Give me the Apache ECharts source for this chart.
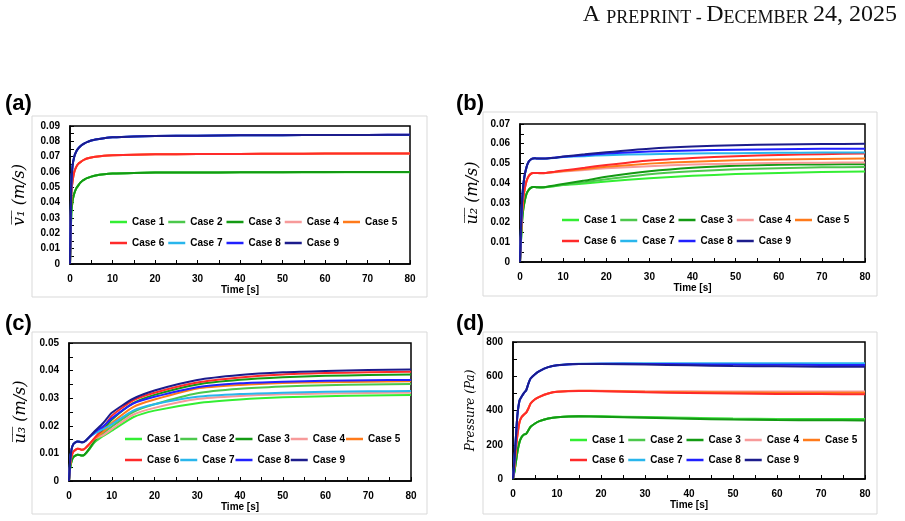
<!DOCTYPE html>
<html lang="en">
<head>
<meta charset="UTF-8">
<title>Mean velocity and pressure histories</title>
<script src="https://cdn.jsdelivr.net/npm/echarts/dist/echarts.min.js"></script>
<style>
  html, body { margin: 0; padding: 0; background: #fff; }
  #chart { width: 905px; height: 521px; }
</style>
</head>
<body>
<div id="chart"></div>
<script>
// time samples [s], shared by the four panels
const time = [0, 0.3, 0.6, 1, 1.5, 2, 2.5, 3, 3.5, 4, 5, 6, 8, 10, 15, 20, 30, 40, 50, 60, 70, 80];

const caseNames = ['Case 1', 'Case 2', 'Case 3', 'Case 4', 'Case 5', 'Case 6', 'Case 7', 'Case 8', 'Case 9'];
const caseColors = ['#33ee33', '#4cc84c', '#139a13', '#f79a9a', '#ff7a1a', '#ff2a2a', '#29b6ec', '#2020ff', '#1c1c8c'];

const xTicks = [0, 10, 20, 30, 40, 50, 60, 70, 80];

// (a) mean v1 [m/s]
const v1Data = [
  [0, 0.033, 0.041, 0.046, 0.0495, 0.0515, 0.0532, 0.0545, 0.0553, 0.056, 0.057, 0.0577, 0.0585, 0.059, 0.0594, 0.0596, 0.0597, 0.0598, 0.0599, 0.0599, 0.0599, 0.0599],
  [0, 0.033, 0.041, 0.046, 0.0495, 0.0515, 0.0532, 0.0545, 0.0553, 0.056, 0.057, 0.0577, 0.0585, 0.059, 0.0594, 0.0596, 0.0597, 0.0598, 0.0599, 0.0599, 0.06, 0.06],
  [0, 0.033, 0.041, 0.046, 0.0495, 0.0515, 0.0532, 0.0545, 0.0553, 0.056, 0.057, 0.0577, 0.0585, 0.059, 0.0594, 0.0596, 0.0597, 0.0598, 0.0599, 0.06, 0.06, 0.06],
  [0, 0.045, 0.054, 0.06, 0.0635, 0.0655, 0.0665, 0.0675, 0.0682, 0.0688, 0.0695, 0.07, 0.0706, 0.0709, 0.0713, 0.0715, 0.0717, 0.0718, 0.0719, 0.0719, 0.072, 0.072],
  [0, 0.045, 0.054, 0.06, 0.0635, 0.0655, 0.0665, 0.0675, 0.0682, 0.0688, 0.0695, 0.07, 0.0706, 0.0709, 0.0713, 0.0715, 0.0717, 0.0718, 0.0719, 0.072, 0.072, 0.072],
  [0, 0.045, 0.054, 0.06, 0.0635, 0.0655, 0.0665, 0.0675, 0.0682, 0.0688, 0.0695, 0.07, 0.0706, 0.0709, 0.0713, 0.0715, 0.0717, 0.0718, 0.0719, 0.072, 0.072, 0.0721],
  [0, 0.052, 0.064, 0.07, 0.0735, 0.0755, 0.077, 0.078, 0.0788, 0.0795, 0.0805, 0.0812, 0.082, 0.0826, 0.0832, 0.0835, 0.0837, 0.0839, 0.084, 0.0841, 0.0842, 0.0842],
  [0, 0.052, 0.064, 0.07, 0.0735, 0.0755, 0.077, 0.078, 0.0788, 0.0795, 0.0805, 0.0812, 0.082, 0.0826, 0.0832, 0.0835, 0.0837, 0.0839, 0.084, 0.0841, 0.0842, 0.0843],
  [0, 0.052, 0.064, 0.07, 0.0735, 0.0755, 0.077, 0.078, 0.0788, 0.0795, 0.0805, 0.0812, 0.082, 0.0826, 0.0832, 0.0835, 0.0837, 0.0839, 0.084, 0.0841, 0.0842, 0.0843]
];

// (b) mean u2 [m/s]
const u2Data = [
  [0, 0.014, 0.024, 0.03, 0.0345, 0.0365, 0.0376, 0.038, 0.038, 0.0379, 0.0378, 0.0379, 0.0384, 0.039, 0.0398, 0.0408, 0.0425, 0.0437, 0.0446, 0.0452, 0.0456, 0.0459],
  [0, 0.014, 0.024, 0.03, 0.0345, 0.0365, 0.0376, 0.038, 0.038, 0.0379, 0.0378, 0.038, 0.0386, 0.0392, 0.0405, 0.042, 0.0445, 0.046, 0.047, 0.0476, 0.048, 0.0482],
  [0, 0.014, 0.024, 0.03, 0.0345, 0.0365, 0.0376, 0.038, 0.038, 0.0379, 0.0379, 0.0381, 0.0388, 0.0396, 0.0413, 0.0432, 0.046, 0.0478, 0.0488, 0.0493, 0.0495, 0.0496],
  [0, 0.018, 0.029, 0.036, 0.041, 0.0435, 0.0447, 0.0452, 0.0452, 0.0451, 0.045, 0.0451, 0.0455, 0.0459, 0.0467, 0.0475, 0.0486, 0.0494, 0.0499, 0.0502, 0.0504, 0.0505],
  [0, 0.018, 0.029, 0.036, 0.041, 0.0435, 0.0447, 0.0452, 0.0452, 0.0451, 0.045, 0.0451, 0.0456, 0.0461, 0.0472, 0.0483, 0.0499, 0.0509, 0.0516, 0.052, 0.0523, 0.0525],
  [0, 0.018, 0.029, 0.036, 0.041, 0.0435, 0.0447, 0.0452, 0.0452, 0.0451, 0.0451, 0.0452, 0.0458, 0.0464, 0.0478, 0.0492, 0.0515, 0.0528, 0.0537, 0.0543, 0.0547, 0.055],
  [0, 0.022, 0.035, 0.043, 0.048, 0.0508, 0.052, 0.0525, 0.0526, 0.0525, 0.0524, 0.0525, 0.0528, 0.0532, 0.0537, 0.0542, 0.0547, 0.055, 0.0552, 0.0554, 0.0555, 0.0556],
  [0, 0.022, 0.035, 0.043, 0.048, 0.0508, 0.052, 0.0525, 0.0526, 0.0525, 0.0525, 0.0525, 0.0529, 0.0534, 0.0542, 0.055, 0.056, 0.0566, 0.057, 0.0572, 0.0574, 0.0575],
  [0, 0.022, 0.035, 0.043, 0.048, 0.0508, 0.052, 0.0525, 0.0526, 0.0525, 0.0525, 0.0525, 0.0529, 0.0535, 0.0546, 0.0557, 0.0575, 0.0586, 0.0592, 0.0596, 0.0598, 0.06]
];

// (c) mean u3 [m/s]
const u3Data = [
  [0, 0.005, 0.0072, 0.0086, 0.0092, 0.0095, 0.0094, 0.0092, 0.0094, 0.0101, 0.012, 0.014, 0.0163, 0.0182, 0.0231, 0.0255, 0.0282, 0.0295, 0.0303, 0.0307, 0.031, 0.0312],
  [0, 0.005, 0.0072, 0.0086, 0.0092, 0.0095, 0.0094, 0.0092, 0.0094, 0.0101, 0.0121, 0.0142, 0.0172, 0.0197, 0.025, 0.0278, 0.0318, 0.0334, 0.0342, 0.0347, 0.035, 0.0351],
  [0, 0.005, 0.0072, 0.0086, 0.0092, 0.0095, 0.0094, 0.0092, 0.0094, 0.0102, 0.0123, 0.0146, 0.0185, 0.0222, 0.0282, 0.0312, 0.035, 0.0367, 0.0376, 0.0381, 0.0384, 0.0386],
  [0, 0.0065, 0.009, 0.0106, 0.0113, 0.0117, 0.0116, 0.0113, 0.0115, 0.0121, 0.0137, 0.0153, 0.0166, 0.0188, 0.024, 0.0265, 0.0297, 0.0308, 0.0314, 0.0317, 0.0319, 0.032],
  [0, 0.0065, 0.009, 0.0106, 0.0113, 0.0117, 0.0116, 0.0113, 0.0115, 0.0121, 0.0137, 0.0154, 0.0178, 0.021, 0.0268, 0.0295, 0.0335, 0.0348, 0.0355, 0.0358, 0.036, 0.0361],
  [0, 0.0065, 0.009, 0.0106, 0.0113, 0.0117, 0.0116, 0.0113, 0.0115, 0.0122, 0.0138, 0.0156, 0.0192, 0.0236, 0.0292, 0.032, 0.0357, 0.0375, 0.0386, 0.0391, 0.0394, 0.0396],
  [0, 0.008, 0.0115, 0.0133, 0.014, 0.0143, 0.0142, 0.014, 0.0142, 0.0147, 0.0162, 0.0172, 0.0188, 0.0205, 0.0255, 0.0278, 0.0305, 0.0315, 0.032, 0.0323, 0.0325, 0.0326],
  [0, 0.008, 0.0115, 0.0133, 0.014, 0.0143, 0.0142, 0.014, 0.0142, 0.0147, 0.0162, 0.0177, 0.0198, 0.0227, 0.028, 0.0305, 0.034, 0.0354, 0.036, 0.0363, 0.0365, 0.0366],
  [0, 0.008, 0.0115, 0.0133, 0.014, 0.0143, 0.0142, 0.014, 0.0142, 0.0148, 0.0164, 0.018, 0.021, 0.0247, 0.0298, 0.0328, 0.0366, 0.0384, 0.0394, 0.0399, 0.0402, 0.0404]
];

// (d) pressure [Pa]
const pData = [
  [0, 40, 90, 159, 217, 247, 260, 264, 285, 305, 324, 338, 353, 361, 367, 366, 362, 357, 353, 351, 350, 350],
  [0, 40, 90, 159, 217, 247, 260, 264, 285, 305, 324, 338, 353, 361, 367, 365, 360, 355, 350, 348, 347, 346],
  [0, 40, 90, 159, 217, 247, 260, 264, 285, 305, 324, 338, 353, 361, 366, 364, 358, 352, 347, 344, 343, 342],
  [0, 70, 160, 256, 334, 363, 377, 388, 412, 441, 466, 480, 499, 509, 515, 515, 513, 512, 511, 511, 511, 511],
  [0, 70, 160, 256, 334, 363, 377, 388, 412, 441, 466, 480, 499, 509, 515, 514, 510, 507, 505, 504, 504, 504],
  [0, 70, 160, 256, 334, 363, 377, 388, 412, 441, 466, 480, 499, 509, 514, 512, 506, 502, 499, 497, 496, 495],
  [0, 100, 220, 373, 460, 483, 503, 518, 557, 587, 612, 630, 653, 664, 673, 675, 676, 676, 676, 676, 676, 676],
  [0, 100, 220, 373, 460, 483, 503, 518, 557, 587, 612, 630, 653, 664, 672, 673, 672, 670, 668, 667, 666, 665],
  [0, 100, 220, 373, 460, 483, 503, 518, 557, 587, 612, 630, 653, 664, 671, 671, 668, 664, 660, 658, 656, 655]
];

const sans = "'Liberation Sans', Arial, sans-serif";
const serif = "'DejaVu Serif', serif";

// layout of each panel
const panels = [
  { tag: '(a)', data: v1Data, yName: 'v\u0305\u2081\u0305 (m/s)', nameSize: 16, yMax: 0.09, yStep: 0.01, digits: 2,
    grid: { left: 70, top: 126, width: 340, height: 138 }, nameGap: 42,
    frame: [32, 116, 395, 181], tagPos: [5, 93], legend: [110, 220, 241, 4] },
  { tag: '(b)', data: u2Data, yName: 'u\u0305\u2082\u0305 (m/s)', nameSize: 16, yMax: 0.07, yStep: 0.01, digits: 2,
    grid: { left: 520, top: 124, width: 345, height: 138 }, nameGap: 39,
    frame: [483, 112, 394, 184], tagPos: [456, 93], legend: [562, 218, 239, 4] },
  { tag: '(c)', data: u3Data, yName: 'u\u0305\u2083\u0305 (m/s)', nameSize: 16, yMax: 0.05, yStep: 0.01, digits: 2,
    grid: { left: 69, top: 343, width: 342, height: 138 }, nameGap: 40,
    frame: [32, 332, 395, 182], tagPos: [5, 313], legend: [125, 437, 458, 1] },
  { tag: '(d)', data: pData, yName: 'Pressure (Pa)', nameSize: 12, yMax: 800, yStep: 200, digits: 0,
    grid: { left: 513, top: 342, width: 352, height: 137 }, nameGap: 36,
    frame: [483, 332, 394, 182], tagPos: [456, 313], legend: [570, 438, 458, 4] }
];

const tickLabel = { color: '#000', fontFamily: sans, fontWeight: 'bold', fontSize: 10 };

const option = {
  animation: false,
  backgroundColor: '#fff',
  grid: [], xAxis: [], yAxis: [], series: [], legend: [],
  graphic: [
    {
      type: 'text', right: 8, top: 3,
      style: {
        text: '{b|A }{s|PREPRINT - }{b|D}{s|ECEMBER }{b|24, 2025}',
        fill: '#111',
        rich: {
          b: { fontFamily: "'Liberation Serif', serif", fontSize: 24, verticalAlign: 'bottom', lineHeight: 26 },
          s: { fontFamily: "'Liberation Serif', serif", fontSize: 18, verticalAlign: 'bottom', lineHeight: 26 }
        }
      }
    }
  ]
};

panels.forEach((p, gi) => {
  option.grid.push(Object.assign({ show: true, borderColor: '#000', borderWidth: 1.5, backgroundColor: '#fff' }, p.grid));
  option.xAxis.push({
    type: 'value', gridIndex: gi, min: 0, max: 80, interval: 10,
    name: 'Time [s]', nameLocation: 'middle', nameGap: 18,
    nameTextStyle: { color: '#000', fontFamily: sans, fontWeight: 'bold', fontSize: 10 },
    axisLine: { lineStyle: { color: '#000', width: 1.5 } },
    axisTick: { inside: true, length: 4, lineStyle: { color: '#000' } },
    minorTick: { show: true, splitNumber: 2, length: 4, lineStyle: { color: '#000' } },
    axisLabel: Object.assign({ margin: 10, formatter: v => xTicks.includes(v) ? String(v) : '' }, tickLabel),
    splitLine: { show: false }
  });
  option.yAxis.push({
    type: 'value', gridIndex: gi, min: 0, max: p.yMax, interval: p.yStep,
    name: p.yName, nameLocation: 'middle', nameRotate: 90, nameGap: p.nameGap,
    nameTextStyle: { color: '#000', fontFamily: serif, fontStyle: 'italic', fontSize: p.nameSize },
    axisLine: { lineStyle: { color: '#000', width: 1.5 } },
    axisTick: { inside: true, length: 4, lineStyle: { color: '#000' } },
    minorTick: { show: true, splitNumber: 2, length: 4, lineStyle: { color: '#000' } },
    axisLabel: Object.assign({ margin: 10, formatter: v => String(+v.toFixed(p.digits)) }, tickLabel),
    splitLine: { show: false }
  });
  p.data.forEach((vals, ci) => {
    option.series.push({
      name: caseNames[ci], type: 'line', xAxisIndex: gi, yAxisIndex: gi,
      data: time.map((t, k) => [t, vals[k]]),
      symbol: 'none', smooth: 0.2,
      color: caseColors[ci],
      lineStyle: { color: caseColors[ci], width: 2 }
    });
  });
  const [lx, row1, row2, gap] = p.legend;
  [[caseNames.slice(0, 5), row1], [caseNames.slice(5), row2]].forEach(([names, cy]) => {
    option.legend.push({
      data: names, left: lx, top: cy - 3, orient: 'horizontal', padding: 0,
      icon: 'rect', itemWidth: 17, itemHeight: 2.5, itemGap: gap, selectedMode: false,
      textStyle: { color: '#000', fontFamily: sans, fontWeight: 'bold', fontSize: 10 }
    });
  });
  const [fx, fy, fw, fh] = p.frame;
  option.graphic.push({
    type: 'rect', z: -10, shape: { x: fx, y: fy, width: fw, height: fh },
    style: { fill: 'none', stroke: '#d9d9d9', lineWidth: 1 }
  });
  option.graphic.push({
    type: 'text', left: p.tagPos[0], top: p.tagPos[1],
    style: { text: p.tag, fill: '#000', font: "bold 22px 'Liberation Sans', Arial, sans-serif" }
  });
});

const chart = echarts.init(document.getElementById('chart'));
chart.setOption(option);
</script>
</body>
</html>
